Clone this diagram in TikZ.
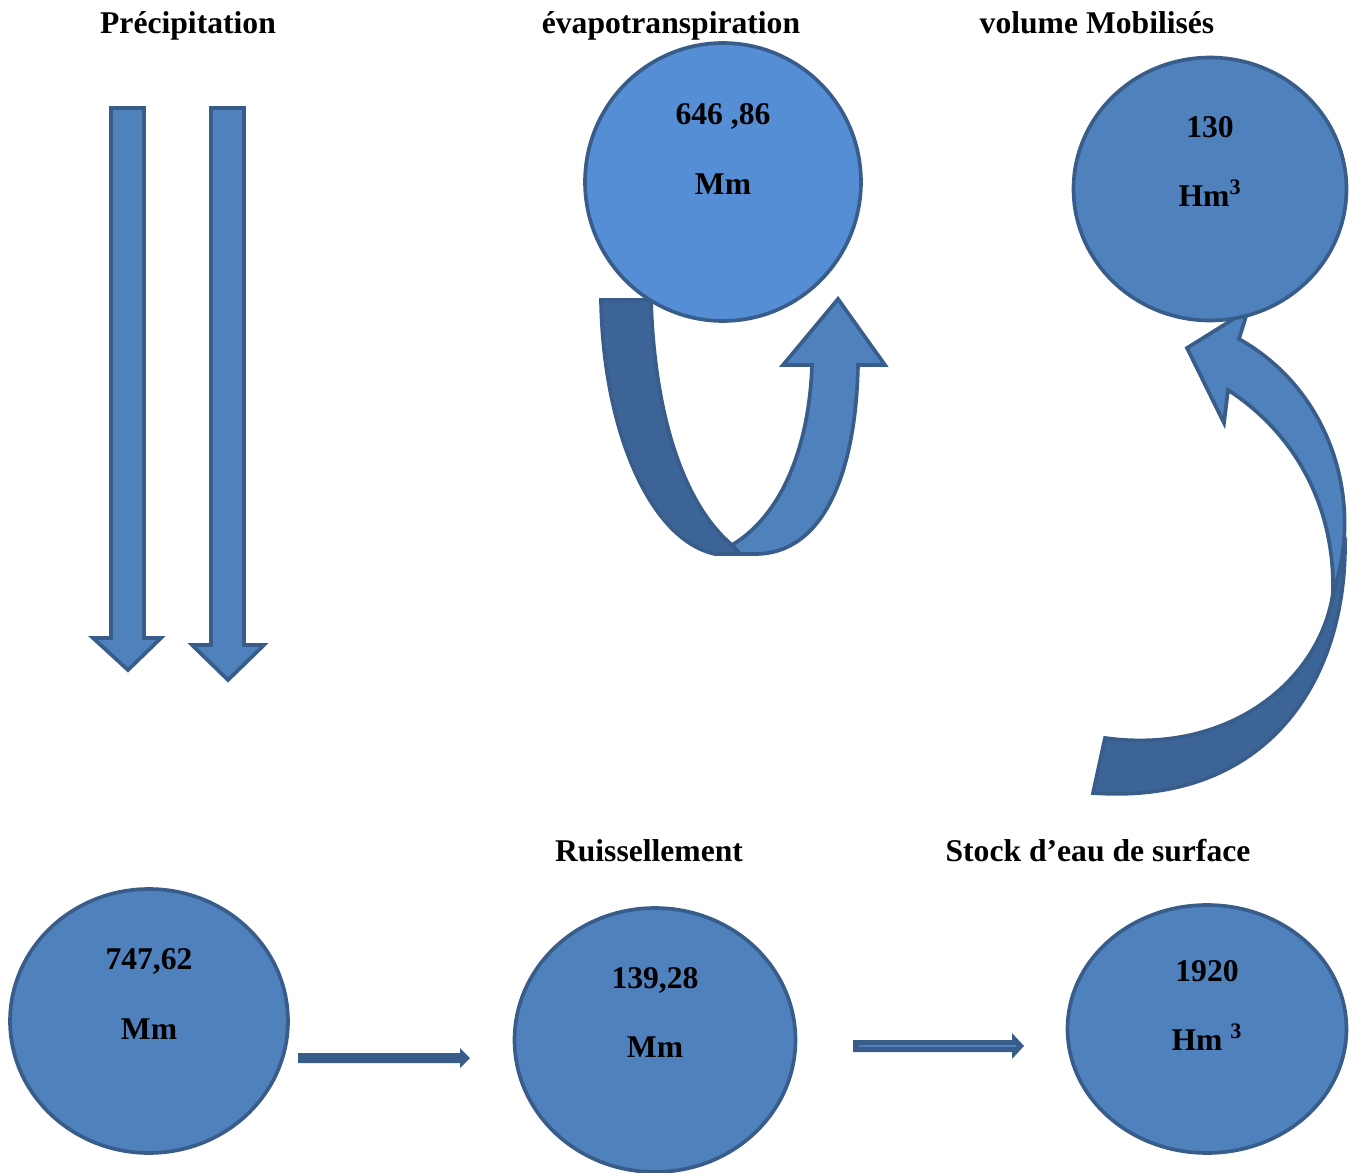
\documentclass[tikz,border=0pt]{standalone}
\usepackage{fontspec}
\setmainfont{Liberation Serif}
\usetikzlibrary{shapes.geometric}
\definecolor{waterfill}{HTML}{4F81BD}
\definecolor{evapfill}{HTML}{558ED5}
\definecolor{waterline}{HTML}{385D8A}
\definecolor{backband}{HTML}{3C6496}
\begin{document}
\begin{tikzpicture}[x=0.02cm,y=-0.02cm,
  bassin/.style={ellipse,draw=waterline,line width=2.1pt,fill=waterfill,inner sep=0pt},
  titre/.style={font=\bfseries\fontsize{18}{20}\selectfont,anchor=base},
  fleche/.style={draw=waterline,line width=2.1pt,line join=miter,fill=waterfill}]
\useasboundingbox (0,0) rectangle (1357,1173);

% titres
\node[titre] (tprecip) at (188,33) {Précipitation};
\node[titre] (tevap) at (671,33) {évapotranspiration};
\node[titre] (tmobil) at (1097,33) {volume Mobilisés};
\node[titre] (truiss) at (649,861) {Ruissellement};
\node[titre] (tstock) at (1098,861) {Stock d’eau de surface};

% pluie
\draw[fleche] (111,108) -- (144,108) -- (144,638) -- (161,638) -- (128,670) -- (93,638) -- (111,638) -- cycle;
\draw[fleche] (211,108) -- (244,108) -- (244,645) -- (264,645) -- (228,680) -- (192,645) -- (211,645) -- cycle;

% boucle evapotranspiration
\draw[fleche,fill=backband] (601,300) -- (651,300) .. controls (655,430) and (690,510) .. (732,545)
  -- (740,554) -- (715,554) .. controls (650,540) and (603,430) .. (601,300) -- cycle;
\draw[fleche] (732,545) .. controls (790,510) and (810,430) .. (812,365) -- (783,365) -- (838,299)
  -- (885,365) -- (858,365) .. controls (856,470) and (825,554) .. (755,554) -- (740,554) -- cycle;

% fleche courbe vers volume mobilise
\draw[fleche,fill=backband] (1345,550) .. controls (1343,690) and (1260,805) .. (1093,793)
  -- (1105,738) .. controls (1230,755) and (1320,680) .. (1333,593) -- cycle;
\draw[fleche] (1228,390) .. controls (1290,430) and (1335,500) .. (1333,593)
  .. controls (1365,500) and (1330,390) .. (1239,339) -- (1248,310) -- (1187,348) -- (1224,423) -- cycle;

% bassins
\node[bassin,fill=evapfill,minimum width=5.52cm,minimum height=5.56cm] (evap) at (723,182) {};
\node[bassin,minimum width=5.46cm,minimum height=5.26cm] (mobil) at (1210,189) {};
\node[bassin,minimum width=5.56cm,minimum height=5.28cm] (precip) at (149,1021) {};
\node[bassin,minimum width=5.62cm,minimum height=5.28cm] (ruiss) at (655,1040) {};
\node[bassin,minimum width=5.58cm,minimum height=4.96cm] (stock) at (1207,1029) {};

% valeurs
\node[titre] (vevap) at (723,124) {646 ,86};
\node[titre] (uevap) at (723,194) {Mm};
\node[titre] (vmobil) at (1210,137) {130};
\node[titre] (umobil) at (1210,206) {Hm\textsuperscript{3}};
\node[titre] (vprecip) at (149,969) {747,62};
\node[titre] (uprecip) at (149,1039) {Mm};
\node[titre] (vruiss) at (655,988) {139,28};
\node[titre] (uruiss) at (655,1057) {Mm};
\node[titre] (vstock) at (1207,981) {1920};
\node[titre] (ustock) at (1207,1050) {Hm \textsuperscript{3}};

% ecoulement
\fill[waterline] (298,1053) -- (460,1053) -- (460,1048) -- (470,1058) -- (460,1068) -- (460,1063) -- (298,1063) -- cycle;
\fill[waterline] (853,1040) -- (1012,1040) -- (1012,1033) -- (1024,1046) -- (1012,1059) -- (1012,1052) -- (853,1052) -- cycle;
\draw[waterfill,line width=0.9pt] (859,1046) -- (1016,1046);
\end{tikzpicture}
\end{document}
